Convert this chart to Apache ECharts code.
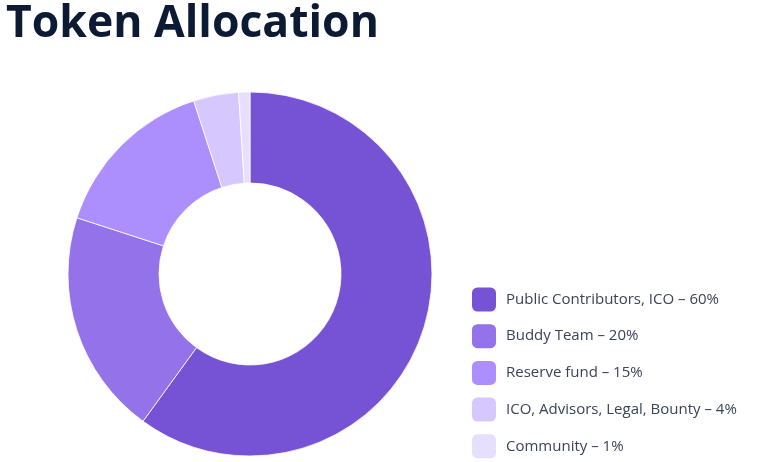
<!DOCTYPE html>
<html>
<head>
<meta charset="utf-8">
<script src="https://cdn.jsdelivr.net/npm/echarts@6/dist/echarts.min.js"></script>
<style>
html,body{margin:0;padding:0;background:#fff;}
#c{width:768px;height:462px;}
</style>
</head>
<body>
<div id="c"></div>
<script>
const titleText = "Token Allocation";
const categories = ["Public Contributors, ICO", "Buddy Team", "Reserve fund", "ICO, Advisors, Legal, Bounty", "Community"];
const values = [60, 20, 15, 4, 1];
const colors = ["#7553d4", "#9372ea", "#ac8ffc", "#d6c7fe", "#e7dffe"];

const legendText = function(name){ const i = categories.indexOf(name); return name + ' \u2013 ' + values[i] + '%'; };
const legends = categories.map((n, i) => ({
  orient: 'vertical',
  left: 470, top: 285.5 + i * 36.7,
  padding: 0,
  itemWidth: 26, itemHeight: 26, itemGap: 0,
  icon: 'roundRect',
  textStyle: {fontFamily: 'Open Sans', fontSize: 15, fontWeight: 500, color: '#3b4358', padding: [0,0,0,4]},
  formatter: legendText,
  data: [n]
}));

const chart = echarts.init(document.getElementById('c'), null, {renderer: 'canvas'});
chart.setOption({
  animation: false,
  title: {
    text: titleText,
    left: 6, top: 2,
    padding: 0,
    textStyle: {fontFamily: 'Open Sans', fontWeight: 'bold', fontSize: 44.5, color: '#0d1a33'}
  },
  legend: legends,
  series: [{
    type: 'pie',
    center: [250, 274],
    radius: [91, 182],
    startAngle: 90,
    clockwise: true,
    label: {show: false},
    labelLine: {show: false},
    itemStyle: {borderColor: '#ffffff', borderWidth: 0.8},
    data: categories.map((n, i) => ({name: n, value: values[i], itemStyle: {color: colors[i]}}))
  }]
});
</script>
</body>
</html>
